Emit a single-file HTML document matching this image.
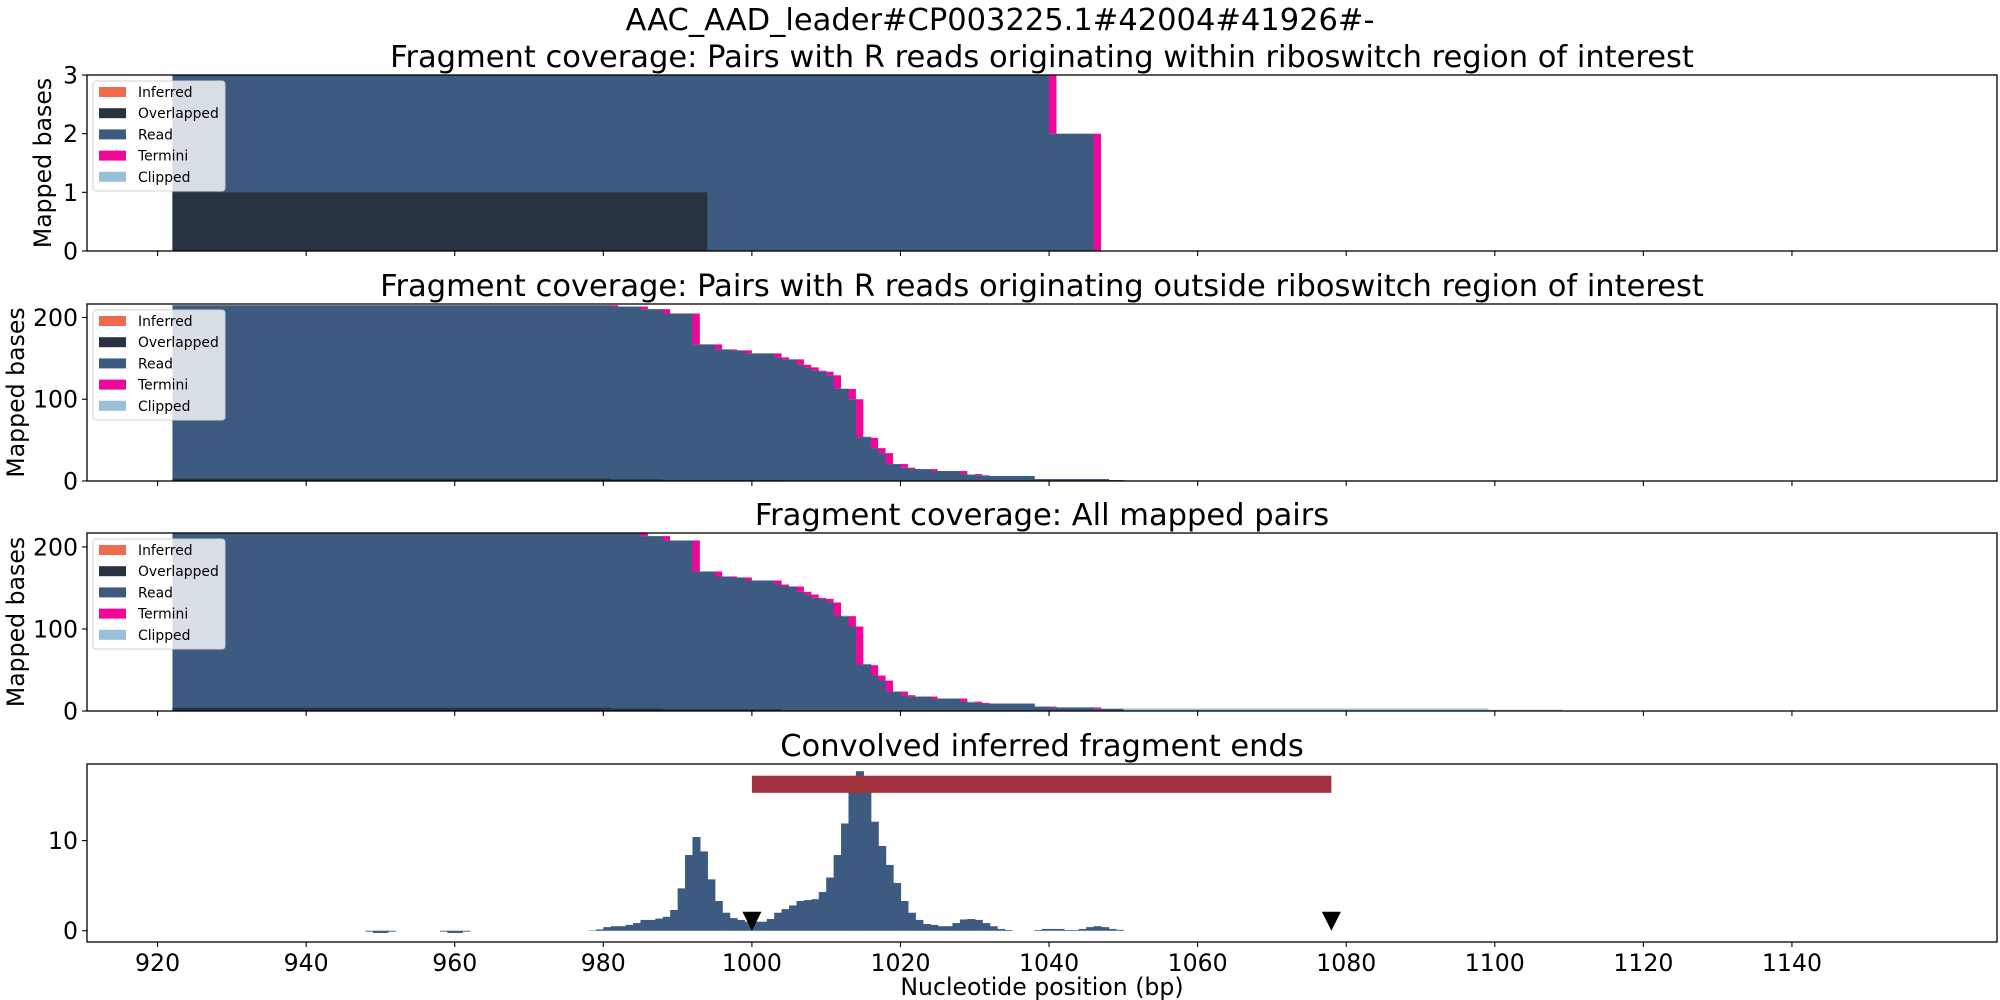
<!DOCTYPE html>
<html><head><meta charset="utf-8">
<style>
html,body{margin:0;padding:0;background:#fff;}
svg{display:block;font-family:"DejaVu Sans","Liberation Sans",sans-serif;}
</style></head>
<body>
<svg id="fig" width="2000" height="1000" viewBox="0 0 2000 1000" xmlns="http://www.w3.org/2000/svg">
<text x="1000" y="30" font-size="30.5" text-anchor="middle">AAC_AAD_leader#CP003225.1#42004#41926#-</text>
</svg>
<script>
// ---- data ----
const xTicks = [920,940,960,980,1000,1020,1040,1060,1080,1100,1120,1140];
const legendLabels = ["Inferred","Overlapped","Read","Termini","Clipped"];
// Panel 1 (within region)
const p1Starts = [922,994,1040,1041,1046];
const p1End = 1047;
const p1Read = [3,3,2,2,0];
const p1Term = [0,0,1,0,2];
const p1Clip = [0,0,0,0,0];
const p1Over = [1,0,0,0,0];
// Panel 2 (outside region)
const p2Starts = [922,981,982,985,986,988,989,992,993,995,996,997,998,999,1000,1003,1004,1005,1006,1007,1008,1009,1010,1011,1012,1013,1014,1015,1016,1017,1018,1019,1020,1021,1022,1024,1025,1028,1029,1030,1031,1032,1038,1048,1050];
const p2End = 1100;
const p2Read = [215,213.4,213.4,210.2,210.2,204.9,204.9,167.1,167.1,161,161,159.8,159.8,156.1,156.1,151.2,148.8,148.8,142.3,139,135,133.7,129.3,113.4,112.6,100,53.7,53.7,40.2,34.1,20.7,20.7,16.3,14.6,14.6,12.2,12.2,8.5,7.5,6.9,6.1,6.1,2.4,1.2,0];
const p2Term = [0,1.6,0,3.2,0,5.3,0,37.8,0,6.1,0,1.2,0,3.7,0,4.9,2.4,0,6.5,3.3,4,1.3,4.4,15.9,0,12.6,46.3,0,12.6,6.1,13.4,0,4.4,1.7,0,2.4,0,3.7,0,1.6,0.8,0,0,0,0];
const p2Clip = [0,0,0,0,0,0,0,0,0,0,0,0,0,0,0,0,0,0,0,0,0,0,0,0,0.8,0,0,0.9,0,0,0,0,0,0,0,0,0,0,1,0,0,0,0,0,0.8];
const p2Over = [3,2,2,2,2,1,1,1,1,1,1,1,1,1,1,1,0,0,0,0,0,0,0,0,0,0,0,0,0,0,0,0,0,0,0,0,0,0,0,0,0,0,0,0,0];
// Panel 3 (all pairs)
const p3Starts = [922,981,982,985,986,988,989,992,993,995,996,997,998,999,1000,1003,1004,1005,1006,1007,1008,1009,1010,1011,1012,1013,1014,1015,1016,1017,1018,1019,1020,1021,1022,1024,1025,1028,1029,1030,1031,1032,1038,1040,1041,1046,1047,1050,1099];
const p3End = 1109;
const p3Read = [218,216.4,216.4,213.2,213.2,207.9,207.9,170.1,170.1,164,164,162.8,162.8,159.1,159.1,154.2,151.8,151.8,145.3,142,138,136.7,132.3,116.4,115.6,103,56.7,56.7,43.2,37.1,23.7,23.7,19.3,17.6,17.6,15.2,15.2,11.5,10.5,9.9,9.1,9.1,5.4,4.4,4.4,2.8,2.8,0,0];
const p3Term = [0,1.6,0,3.2,0,5.3,0,37.8,0,6.1,0,1.2,0,3.7,0,4.9,2.4,0,6.5,3.3,4,1.3,4.4,15.9,0,12.6,46.3,0,12.6,6.1,13.4,0,4.4,1.7,0,2.4,0,3.7,0,1.6,0.8,0,0,1,0,1.6,0,0,0];
const p3Clip = [0,0,0,0,0,0,0,0,0,0,0,0,0,0,0,0,0,0,0,0,0,0,0,0,0.8,0,0,0.9,0,0,0,0,0,0,0,0,0,0,1,0,0,0,0,0,0,0,0,3,1.6];
const p3Over = [4,3,3,3,3,2,2,2,2,2,2,2,2,2,2,2,0,0,0,0,0,0,0,0,0,0,0,0,0,0,0,0,0,0,0,0,0,0,0,0,0,0,0,0,0,0,0,0,0];
// Panel 4 (convolved ends), one value per nucleotide starting at histStart
const histStart = 945;
const histValues = [0,0,0,-0.1,-0.25,-0.25,-0.1,0,0,0,0,0,0,-0.1,-0.25,-0.25,-0.1,
 0,0,0,0,0,0,0,0,0,0,0,0,0,0,0,0,
 0.04,0.15,0.4,0.5,0.5,0.65,0.85,1.2,1.2,1.35,1.55,2.3,4.7,8.4,10.4,8.8,5.7,3.3,2.0,1.4,1.2,1.0,1.0,1.0,1.3,2.0,2.4,2.8,3.3,3.4,3.5,4.3,5.9,8.4,11.9,15.9,17.7,15.8,12.1,9.4,7.3,5.3,3.3,2.0,1.2,0.75,0.65,0.5,0.5,0.85,1.25,1.3,1.2,0.85,0.5,0.2,0.08,0,0,0,0.08,0.2,0.2,0.2,0.08,0.08,0.2,0.4,0.5,0.4,0.2,0.1];
const regionStart = 1000, regionEnd = 1078, regionY = 16.25;
const markerPos = [1000,1078];

// ---- layout ----
const NS = "http://www.w3.org/2000/svg";
const svg = document.getElementById('fig');
const L = 87, R = 1997, XMIN = 910.5, XMAX = 1167.6;
const X = v => L + (v - XMIN) / (XMAX - XMIN) * (R - L);
const C = {inf:"#ee6c4d", over:"#293241", read:"#3d5a80", term:"#f0079a", clip:"#98c1d9"};
const TICKFS = 23.6, TITLEFS = 30.5;
function mk(tag, attrs, parent){ const e=document.createElementNS(NS,tag); for(const k in attrs) e.setAttribute(k,attrs[k]); (parent||svg).appendChild(e); return e; }

const panels = [
 {top:75,bottom:251,ymin:0,ymax:3,yt:[0,1,2,3],title:"Fragment coverage: Pairs with R reads originating within riboswitch region of interest",ylx:42,name:"within"},
 {top:304,bottom:481,ymin:0,ymax:216.5,yt:[0,100,200],title:"Fragment coverage: Pairs with R reads originating outside riboswitch region of interest",ylx:15,name:"outside"},
 {top:533,bottom:711,ymin:0,ymax:217,yt:[0,100,200],title:"Fragment coverage: All mapped pairs",ylx:15,name:"all"},
 {top:764,bottom:942,ymin:-1.25,ymax:18.5,yt:[0,10],title:"Convolved inferred fragment ends",name:"convolved"}
];
const data = [
 [p1Starts,p1End,p1Read,p1Term,p1Clip,p1Over],
 [p2Starts,p2End,p2Read,p2Term,p2Clip,p2Over],
 [p3Starts,p3End,p3Read,p3Term,p3Clip,p3Over]
];

panels.forEach((p,pi)=>{
  const Y = v => p.bottom - (v - p.ymin)/(p.ymax - p.ymin)*(p.bottom - p.top);
  const g = mk('g',{});
  
  
  const clipId = 'c'+pi;
  const cp = mk('clipPath',{id:clipId},g);
  mk('rect',{x:L,y:p.top,width:R-L,height:p.bottom-p.top},cp);
  const plot = mk('g',{'clip-path':'url(#'+clipId+')'},g);
  if(pi<3){
    const [st,end,rd,tm,cl,ov]=data[pi];
    for(let i=0;i<st.length;i++){
      const x0=X(st[i]), x1=X(i+1<st.length?st[i+1]:end), w=x1-x0+0.6;
      if(rd[i]>0){ const r=mk('rect',{x:x0,y:Y(rd[i]),width:w,height:Y(0)-Y(rd[i]),fill:C.read},plot);
          }
      if(ov[i]>0){ const r=mk('rect',{x:x0,y:Y(ov[i]),width:w,height:Y(0)-Y(ov[i]),fill:C.over},plot);
          }
      if(tm[i]>0){ const r=mk('rect',{x:x0,y:Y(rd[i]+tm[i]),width:x1-x0,height:Y(rd[i])-Y(rd[i]+tm[i]),fill:C.term},plot);
          }
      if(cl[i]>0){ const b=rd[i]+tm[i]; const r=mk('rect',{x:x0,y:Y(b+cl[i]),width:w,height:Y(b)-Y(b+cl[i]),fill:C.clip},plot);
          }
    }
  } else {
    histValues.forEach((v,i)=>{
      if(v===0) return;
      const pos=histStart+i, x0=X(pos), x1=X(pos+1);
      const r=mk('rect',{x:x0,y:Math.min(Y(v),Y(0)),width:x1-x0+0.6,height:Math.abs(Y(0)-Y(v)),fill:C.read},plot);
       
    });
    const rb=mk('rect',{x:X(regionStart),y:Y(regionY+0.95),width:X(regionEnd)-X(regionStart),height:Y(regionY-0.95)-Y(regionY+0.95),fill:"#a3333f"},plot);
     
    markerPos.forEach(m=>{
      const cx=X(m), ty=Y(0)-19;
      const t=mk('polygon',{points:`${cx-9.5},${ty} ${cx+9.5},${ty} ${cx},${Y(0)}`,fill:"#000"},g);
       
    });
  }
  // frame
  const f=mk('rect',{x:L,y:p.top,width:R-L,height:p.bottom-p.top,fill:"none",stroke:"#000","stroke-width":1.3},g);
   
  // x ticks
  xTicks.forEach(t=>{
    mk('line',{x1:X(t),x2:X(t),y1:p.bottom,y2:p.bottom+5,stroke:"#000","stroke-width":1.1},g);
    if(pi===3){ const tl=mk('text',{x:X(t),y:p.bottom+29,'font-size':TICKFS,'text-anchor':'middle'},g); tl.textContent=t;
        }
  });
  // y ticks
  p.yt.forEach(t=>{
    mk('line',{x1:L-5,x2:L,y1:Y(t),y2:Y(t),stroke:"#000","stroke-width":1.1},g);
    const tl=mk('text',{x:L-9,y:Y(t)+8.5,'font-size':TICKFS,'text-anchor':'end'},g); tl.textContent=t;
     
  });
  // title
  const tt=mk('text',{x:(L+R)/2,y:p.top-8,'font-size':TITLEFS,'text-anchor':'middle'},g); tt.textContent=p.title;
   
  if(pi<3){
    const yc=(p.top+p.bottom)/2, bx=p.ylx+9;
    const yl=mk('text',{x:bx,y:yc,'font-size':TICKFS,'text-anchor':'middle',transform:`rotate(-90 ${bx} ${yc})`},g);
    yl.textContent="Mapped bases";
     
    // legend
    const lg=mk('g',{},g);
     
    mk('rect',{x:93,y:p.top+6,width:132,height:110,rx:3,fill:"rgba(255,255,255,0.8)",stroke:"#d0d0d0","stroke-width":1},lg);
    const cols=[C.inf,C.over,C.read,C.term,C.clip];
    legendLabels.forEach((lab,k)=>{
      const cy=p.top+17+k*21.2;
      mk('rect',{x:99,y:cy-5,width:27,height:10,fill:cols[k]},lg);
      const lt=mk('text',{x:138,y:cy+5,'font-size':13.9},lg); lt.textContent=lab;
       
    });
  }
});
const xl=mk('text',{x:(L+R)/2,y:995,'font-size':TICKFS,'text-anchor':'middle'});
xl.textContent="Nucleotide position (bp)";


</script>
</body></html>
